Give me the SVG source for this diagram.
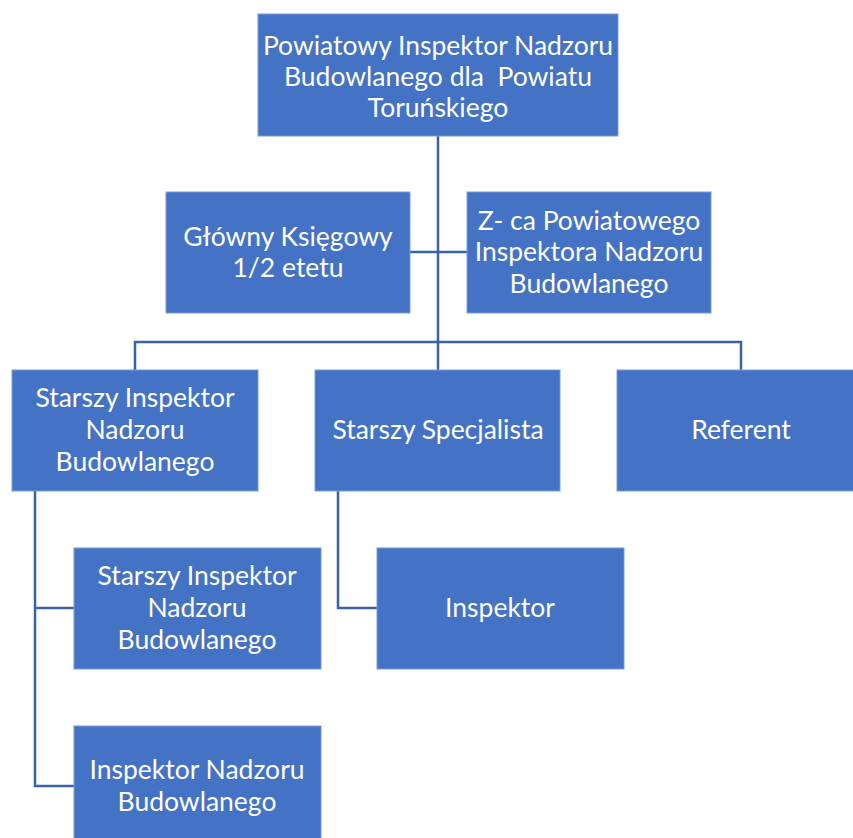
<svg xmlns="http://www.w3.org/2000/svg" width="853" height="838" viewBox="0 0 853 838">
<style>
.box{fill:#4472C4;stroke:#7A9BD6;stroke-width:1}
.t{font-family:Lato,"Open Sans","Liberation Sans",sans-serif;font-size:26.5px;fill:#ffffff;text-anchor:middle}
.c{fill:none;stroke:#3A62A8;stroke-width:2.5}
</style>
<rect width="853" height="838" fill="#ffffff"/>
<g id="connectors">
<path class="c" d="M438,136 V370"/>
<path class="c" d="M410,252 H467"/>
<path class="c" d="M135,370 V342 H741 V370"/>
<path class="c" d="M35,491 V786 H74"/>
<path class="c" d="M35,608 H74"/>
<path class="c" d="M338,491 V608 H377"/>
</g>
<g id="n-top"><rect class="box" x="258" y="14" width="360" height="122"/>
<text class="t"><tspan x="438" y="55">Powiatowy Inspektor Nadzoru</tspan><tspan x="438" y="86">Budowlanego dla&#160; Powiatu</tspan><tspan x="438" y="117">Toruńskiego</tspan></text></g>
<g id="n-ksiegowy"><rect class="box" x="166" y="192" width="244" height="121"/>
<text class="t"><tspan x="288" y="246">Główny Księgowy</tspan><tspan x="288" y="277">1/2 etetu</tspan></text></g>
<g id="n-zca"><rect class="box" x="467" y="192" width="244" height="121"/>
<text class="t"><tspan x="589" y="230">Z- ca Powiatowego</tspan><tspan x="589" y="261">Inspektora Nadzoru</tspan><tspan x="589" y="293">Budowlanego</tspan></text></g>
<g id="n-starszy1"><rect class="box" x="12" y="370" width="246" height="121"/>
<text class="t"><tspan x="135" y="407">Starszy Inspektor</tspan><tspan x="135" y="439">Nadzoru</tspan><tspan x="135" y="471">Budowlanego</tspan></text></g>
<g id="n-specjalista"><rect class="box" x="315" y="370" width="245" height="121"/>
<text class="t"><tspan x="438" y="439">Starszy Specjalista</tspan></text></g>
<g id="n-referent"><rect class="box" x="617" y="370" width="246" height="121"/>
<text class="t"><tspan x="741" y="439">Referent</tspan></text></g>
<g id="n-starszy2"><rect class="box" x="74" y="548" width="247" height="121"/>
<text class="t"><tspan x="197" y="585">Starszy Inspektor</tspan><tspan x="197" y="617">Nadzoru</tspan><tspan x="197" y="649">Budowlanego</tspan></text></g>
<g id="n-inspektor"><rect class="box" x="377" y="548" width="247" height="121"/>
<text class="t"><tspan x="500" y="617">Inspektor</tspan></text></g>
<g id="n-inspektor-nadzoru"><rect class="box" x="74" y="726" width="247" height="121"/>
<text class="t"><tspan x="197" y="779">Inspektor Nadzoru</tspan><tspan x="197" y="811">Budowlanego</tspan></text></g>
</svg>
